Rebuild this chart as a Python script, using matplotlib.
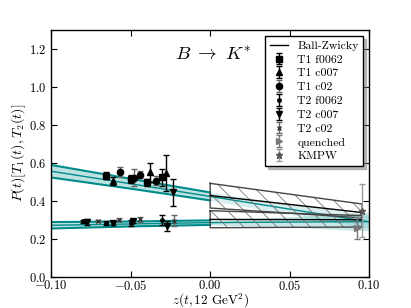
import matplotlib
matplotlib.use("Agg")
import matplotlib.pyplot as plt
import numpy as np

plt.rcParams['font.family'] = 'serif'
plt.rcParams['font.serif'] = ['cmr10', 'DejaVu Serif']
plt.rcParams['mathtext.fontset'] = 'cm'
plt.rcParams['axes.formatter.use_mathtext'] = True
plt.rcParams['hatch.linewidth'] = 0.6

# ---- data ----
t1_f0062_z = [-0.0654, -0.0497, -0.0399, -0.0302]
t1_f0062_y = [0.532, 0.515, 0.497, 0.524]
t1_f0062_e = [0.018, 0.020, 0.018, 0.045]

t1_c007_z = [-0.0609, -0.0378, -0.0275]
t1_c007_y = [0.506, 0.550, 0.548]
t1_c007_e = [0.022, 0.050, 0.094]

t1_c02_z = [-0.0568, -0.0478, -0.0441, -0.0340]
t1_c02_y = [0.552, 0.522, 0.538, 0.506]
t1_c02_e = [0.028, 0.045, 0.020, 0.023]

t2_f0062_z = [-0.0797, -0.0654, -0.0499, -0.0303]
t2_f0062_y = [0.292, 0.281, 0.283, 0.299]
t2_f0062_e = [0.008, 0.010, 0.015, 0.026]

t2_c007_z = [-0.0772, -0.0608, -0.0483, -0.0273, -0.0232]
t2_c007_y = [0.290, 0.283, 0.292, 0.267, 0.445]
t2_c007_e = [0.015, 0.012, 0.010, 0.025, 0.071]

t2_c02_z = [-0.0707, -0.0571, -0.0441, -0.0229]
t2_c02_y = [0.292, 0.300, 0.302, 0.295]
t2_c02_e = [0.006, 0.008, 0.015, 0.030]

quenched_z = [0.0925]
quenched_y = [0.255]
quenched_e = [0.057]

kmpw_z = [0.0955]
kmpw_y = [0.348]
kmpw_e = [0.140]

# fit bands
band_z_fit = [-0.10, -0.05, 0.00]
t1_fit_c = [0.556, 0.490, 0.423]
t1_fit_h = [0.033, 0.026, 0.021]
t2_fit_c = [0.271, 0.278, 0.285]
t2_fit_h = [0.017, 0.013, 0.012]

band_z_ext = [0.00, 0.05, 0.10]
t1_ext_c = [0.423, 0.356, 0.289]
t1_ext_h = [0.021, 0.028, 0.036]
t2_ext_c = [0.285, 0.288, 0.290]
t2_ext_h = [0.012, 0.028, 0.048]

# Ball-Zwicky boxes
bz_z = [0.0, 0.0955]
bz_t1_top = [0.492, 0.383]
bz_t1_mid = [0.428, 0.338]
bz_t1_bot = [0.362, 0.310]
bz_t2_top = [0.348, 0.322]
bz_t2_mid = [0.302, 0.300]
bz_t2_bot = [0.258, 0.262]

fig = plt.figure(figsize=(4.11, 3.08), dpi=100)
ax = fig.add_axes([0.124, 0.1016, 0.7746, 0.801])

teal = '#008b8b'
fillc = '#2aa0a0'

def band(zs, c, h, alpha, edges):
    zs = np.array(zs); c = np.array(c); h = np.array(h)
    ax.fill_between(zs, c - h, c + h, color=fillc, alpha=alpha, lw=0, zorder=1)
    ax.plot(zs, c, color=teal, lw=1.0, zorder=2)
    if edges:
        ax.plot(zs, c - h, color=teal, lw=1.5, zorder=2)
        ax.plot(zs, c + h, color=teal, lw=1.5, zorder=2)

band(band_z_fit, t1_fit_c, t1_fit_h, 0.3, True)
band(band_z_fit, t2_fit_c, t2_fit_h, 0.3, True)
band(band_z_ext, t1_ext_c, t1_ext_h, 0.18, False)
band(band_z_ext, t2_ext_c, t2_ext_h, 0.25, False)

def bzbox(top, mid, bot, label=None):
    ax.fill_between(bz_z, bot, top, facecolor='none', edgecolor='#777777',
                    hatch='\\\\', lw=0, zorder=3)
    xs = [bz_z[0], bz_z[1], bz_z[1], bz_z[0], bz_z[0]]
    ys = [top[0], top[1], bot[1], bot[0], top[0]]
    ax.plot(xs, ys, color='#444444', lw=1.0, zorder=3)
    ax.plot(bz_z, mid, color='black', lw=1.0, zorder=3, label=label)

bzbox(bz_t1_top, bz_t1_mid, bz_t1_bot, 'Ball-Zwicky')
bzbox(bz_t2_top, bz_t2_mid, bz_t2_bot)

kw = dict(ls='none', capsize=2.5, elinewidth=1, capthick=1, zorder=5)
ax.errorbar(t1_f0062_z, t1_f0062_y, yerr=t1_f0062_e, fmt='s', color='black', ms=4.5, label='T1 f0062', **kw)
ax.errorbar(t1_c007_z, t1_c007_y, yerr=t1_c007_e, fmt='^', color='black', ms=4.5, label='T1 c007', **kw)
ax.errorbar(t1_c02_z, t1_c02_y, yerr=t1_c02_e, fmt='o', color='black', ecolor='#666666', ms=4.5, label='T1 c02', **kw)
ax.errorbar(t2_f0062_z, t2_f0062_y, yerr=t2_f0062_e, fmt='.', color='black', ms=5, label='T2 f0062', **kw)
ax.errorbar(t2_c007_z, t2_c007_y, yerr=t2_c007_e, fmt='v', color='black', ms=4.5, label='T2 c007', **kw)
ax.errorbar(t2_c02_z, t2_c02_y, yerr=t2_c02_e, fmt='x', color='#333333', ecolor='#666666', ms=3.5, mew=1, label='T2 c02', **kw)
ax.errorbar(quenched_z, quenched_y, yerr=quenched_e, fmt='>', color='#777777', ms=5, label='quenched', **kw)
ax.errorbar(kmpw_z, kmpw_y, yerr=kmpw_e, fmt='*', color='#555555', ecolor='#999999', ms=5, label='KMPW', **kw)

ax.set_xlim(-0.1, 0.1)
ax.set_ylim(0.0, 1.3)
ax.set_xticks([-0.10, -0.05, 0.0, 0.05, 0.10])
ax.set_yticks([0.0, 0.2, 0.4, 0.6, 0.8, 1.0, 1.2])
ax.xaxis.set_major_formatter(matplotlib.ticker.FuncFormatter(lambda v, p: '$%.2f$' % v if abs(v) > 1e-9 else '$0.00$'))
ax.yaxis.set_major_formatter(matplotlib.ticker.FuncFormatter(lambda v, p: '$%.1f$' % v))
ax.tick_params(direction='in', top=True, right=True, labelsize=9, length=4, width=0.8)
ax.tick_params(axis='x', pad=2)
for s in ax.spines.values():
    s.set_linewidth(1.0)

ax.set_xlabel(r'$z(t,12\ \mathrm{GeV}^2)$', fontsize=9.5, labelpad=-1.5)
ax.set_ylabel(r'$P(t)[T_1(t),T_2(t)]$', fontsize=10, labelpad=0.5)
ax.text(0.002, 1.17, r'$B\ \to\ K^{*}$', fontsize=13.5, ha='center', va='center')

leg = ax.legend(loc='upper right', fontsize=8.5, numpoints=1,
                shadow={'ox': 2, 'oy': -2, 'shade': 0.5},
                fancybox=False, framealpha=1, edgecolor='black', borderaxespad=0.5,
                handlelength=1.5, handletextpad=0.8, labelspacing=0.3, borderpad=0.4)
leg.get_frame().set_linewidth(1.0)

fig.savefig('out.png', dpi=100)
